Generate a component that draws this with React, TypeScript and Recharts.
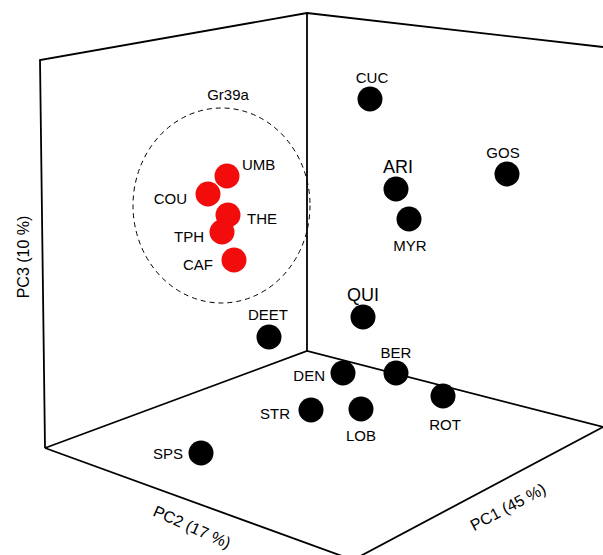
import { ScatterChart, Scatter, XAxis, YAxis, ReferenceArea } from 'recharts';

// projected positions of each sample
const redNames = ['UMB', 'COU', 'THE', 'TPH', 'CAF'];
const redX = [227, 208, 228, 222, 234];
const redY = [176, 194, 215, 232, 260];

const blackNames = ['CUC', 'ARI', 'MYR', 'GOS', 'QUI', 'DEET', 'BER', 'DEN', 'ROT', 'LOB', 'STR', 'SPS'];
const blackX = [370, 396, 409, 507, 363, 269, 396, 343, 443, 361, 311, 201];
const blackY = [99, 189, 219, 174, 317, 337, 373, 373, 396, 409, 410, 453];

// box outline corners
const backWall = [[45, 448], [40, 60], [307, 13], [603, 47]];
const cornerEdge = [[307, 13], [307, 351]];
const floorBack = [[45, 448], [307, 351], [603, 427]];
const floorFront = [[45, 448], [353, 560], [603, 427]];

const groupName = 'Gr39a';
const groupBox = { x1: 133, x2: 310, y1: 108, y2: 303 };
const groupLabelPos = [228, 94];

const axisTitles = ['PC3 (10 %)', 'PC2 (17 %)', 'PC1 (45 %)'];
const axisTitleX = [23, 192, 508];
const axisTitleY = [257, 527, 507];

// label placement: [dx, dy, anchor, fontSize]
const labelStyle: Record<string, [number, number, string, number]> = {
  UMB: [15, -12, 'start', 15],
  COU: [-21, 4, 'end', 15],
  THE: [19, 3, 'start', 15],
  TPH: [-18, 4, 'end', 15],
  CAF: [-21, 4, 'end', 15],
  CUC: [2, -22, 'middle', 15],
  ARI: [2, -22, 'middle', 18],
  MYR: [1, 26, 'middle', 15],
  GOS: [-4, -22, 'middle', 15],
  QUI: [0, -22, 'middle', 18],
  DEET: [-1, -23, 'middle', 15],
  BER: [0, -21, 'middle', 15],
  DEN: [-18, 2, 'end', 15],
  ROT: [2, 28, 'middle', 15],
  LOB: [0, 26, 'middle', 15],
  STR: [-21, 3, 'end', 15],
  SPS: [-18, 0, 'end', 15],
};
const axisAngles = [-90, 24, -28];

const FONT = '"Liberation Sans", Arial, sans-serif';

const toPts = (arr: number[][]) => arr.map(([x, y]) => ({ x, y }));
const redData = redNames.map((name, i) => ({ name, x: redX[i], y: redY[i] }));
const blackData = blackNames.map((name, i) => ({ name, x: blackX[i], y: blackY[i] }));
const titleData = axisTitles.map((text, i) => ({ text, x: axisTitleX[i], y: axisTitleY[i], i }));

const makeDot = (fill: string) => (props: any) => {
  const { cx, cy, payload } = props;
  const [dx, dy, anchor, size] = labelStyle[payload.name];
  return (
    <g>
      <circle cx={cx} cy={cy} r={12.5} fill={fill} />
      <text
        x={cx + dx}
        y={cy + dy}
        textAnchor={anchor as any}
        dominantBaseline="central"
        fontSize={size}
        fontFamily={FONT}
        fill="#000"
      >
        {payload.name}
      </text>
    </g>
  );
};

const noDot = () => <g />;

const edgeLine = { stroke: '#000', strokeWidth: 1.8 };

export default function App() {
  return (
    <div style={{ position: 'absolute', left: 0, top: 0, background: '#fff' }}>
      <ScatterChart width={603} height={555} margin={{ top: 0, right: 0, bottom: 0, left: 0 }}>
        <XAxis type="number" dataKey="x" domain={[0, 603]} allowDataOverflow hide />
        <YAxis type="number" dataKey="y" domain={[0, 555]} reversed allowDataOverflow hide />
        {[backWall, cornerEdge, floorBack, floorFront].map((edge, i) => (
          <Scatter
            key={'edge' + i}
            data={toPts(edge)}
            line={edgeLine}
            lineType="joint"
            shape={noDot}
            isAnimationActive={false}
          />
        ))}
        <ReferenceArea
          x1={groupBox.x1}
          x2={groupBox.x2}
          y1={groupBox.y1}
          y2={groupBox.y2}
          shape={(p: any) => (
            <ellipse
              cx={p.x + p.width / 2}
              cy={p.y + p.height / 2}
              rx={p.width / 2}
              ry={Math.abs(p.height) / 2}
              fill="none"
              stroke="#000"
              strokeWidth={1}
              strokeDasharray="5 4"
            />
          )}
        />
        <Scatter
          data={[{ x: groupLabelPos[0], y: groupLabelPos[1] }]}
          isAnimationActive={false}
          shape={(p: any) => (
            <text x={p.cx} y={p.cy} textAnchor="middle" dominantBaseline="central" fontSize={15} fontFamily={FONT}>
              {groupName}
            </text>
          )}
        />
        <Scatter data={redData} shape={makeDot('#f20c0c')} isAnimationActive={false} />
        <Scatter data={blackData} shape={makeDot('#000')} isAnimationActive={false} />
        <Scatter
          data={titleData}
          isAnimationActive={false}
          shape={(p: any) => (
            <text
              x={p.cx}
              y={p.cy}
              textAnchor="middle"
              dominantBaseline="central"
              fontSize={16}
              fontFamily={FONT}
              transform={`rotate(${axisAngles[p.payload.i]} ${p.cx} ${p.cy})`}
            >
              {p.payload.text}
            </text>
          )}
        />
      </ScatterChart>
    </div>
  );
}
